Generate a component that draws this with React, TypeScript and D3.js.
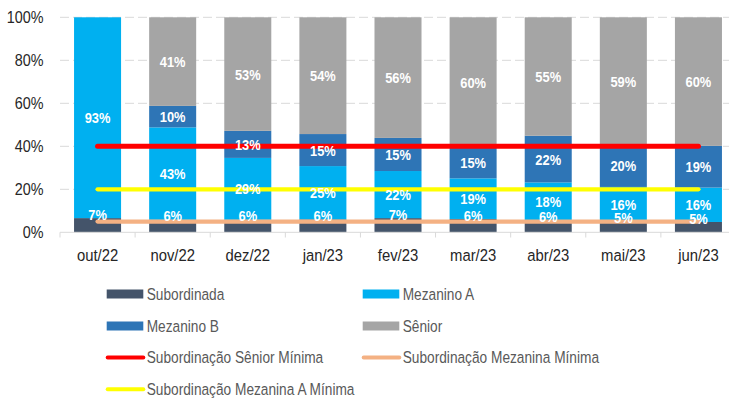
import React from "react";
import * as d3 from "d3";

const categories = ["out/22", "nov/22", "dez/22", "jan/23", "fev/23", "mar/23", "abr/23", "mai/23", "jun/23"];
const subordinada = [6.6, 5.8, 5.8, 6.0, 6.6, 6.2, 5.6, 5.2, 4.8];
const mezaninoA = [93.4, 43.0, 28.8, 24.8, 21.9, 18.9, 17.6, 15.9, 16.0];
const mezaninoB = [0, 10.0, 12.6, 14.9, 15.4, 14.7, 21.7, 19.6, 19.4];
const senior = [0, 41.2, 52.8, 54.3, 56.1, 60.2, 55.1, 59.3, 59.8];
const subSeniorMin = 40;
const subMezAMin = 20;
const subMezMin = 5;
const yTicks = [0, 20, 40, 60, 80, 100];

const seriesNames = ["Subordinada", "Mezanino A", "Mezanino B", "Sênior"];
const seriesColors = ["#44546A", "#00B0F0", "#2E75B6", "#A5A5A5"];
const lineNames = ["Subordinação Sênior Mínima", "Subordinação Mezanina Mínima", "Subordinação Mezanina A Mínima"];
const lineColors = ["#FF0000", "#F4B183", "#FFFF00"];

const W = 729;
const H = 403;
const FONT = "'Liberation Sans', Arial, sans-serif";

function NText(props: {
  x: number;
  y: number;
  sx: number;
  anchor?: "start" | "middle" | "end";
  size: number;
  fill: string;
  bold?: boolean;
  children: React.ReactNode;
}) {
  return (
    <text
      transform={`translate(${props.x},${props.y}) scale(${props.sx},1)`}
      dy="0.36em"
      textAnchor={props.anchor || "start"}
      fontSize={props.size}
      fontWeight={props.bold ? "bold" : "normal"}
      fill={props.fill}
    >
      {props.children}
    </text>
  );
}

export default function App() {
  const x = d3.scaleBand<string>().domain(categories).range([60, 736]).paddingInner(0.374).paddingOuter(0.187);
  const y = d3.scaleLinear().domain([0, 100]).range([232.3, 17.3]);
  const pct = (v: number) => d3.format(".0f")(v) + "%";

  const rows = categories.map((c, i) => ({ cat: c, s: [subordinada[i], mezaninoA[i], mezaninoB[i], senior[i]] }));
  const stack = rows.map((r) => {
    let acc = 0;
    return r.s.map((v) => {
      const y0 = acc;
      acc += v;
      return { y0, y1: acc, v };
    });
  });

  const xFirst = x(categories[0])! + x.bandwidth() / 2;
  const xLast = x(categories[categories.length - 1])! + x.bandwidth() / 2;
  const lineVals = [
    { v: subSeniorMin, c: lineColors[0], w: 5 },
    { v: subMezAMin, c: lineColors[2], w: 4.3 },
    { v: subMezMin, c: lineColors[1], w: 4.3 },
  ];

  const legendItems = [
    { name: seriesNames[0], color: seriesColors[0], type: "rect", col: 0, row: 0 },
    { name: seriesNames[1], color: seriesColors[1], type: "rect", col: 1, row: 0 },
    { name: seriesNames[2], color: seriesColors[2], type: "rect", col: 0, row: 1 },
    { name: seriesNames[3], color: seriesColors[3], type: "rect", col: 1, row: 1 },
    { name: lineNames[0], color: lineColors[0], type: "line", col: 0, row: 2 },
    { name: lineNames[1], color: lineColors[1], type: "line", col: 1, row: 2 },
    { name: lineNames[2], color: lineColors[2], type: "line", col: 0, row: 3 },
  ];
  const colX = [106.7, 362.7];
  const rowY = [294, 326, 357.5, 389.3];

  return (
    <svg width={W} height={H} style={{ position: "absolute", left: 0, top: 0, background: "#fff" }} fontFamily={FONT}>
      {/* gridlines */}
      {yTicks.filter((t) => t > 0).map((t) => (
        <line key={t} x1={60} x2={W} y1={y(t)} y2={y(t)} stroke="#D9D9D9" strokeWidth={1} strokeDasharray="9,4" />
      ))}
      {/* y labels */}
      {yTicks.map((t) => (
        <NText key={t} x={43.5} y={y(t)} sx={0.87} anchor="end" size={16.5} fill="#262626">
          {t + "%"}
        </NText>
      ))}
      {/* bars */}
      {rows.map((r, i) =>
        stack[i].map((seg, j) =>
          seg.v > 0 ? (
            <rect
              key={r.cat + j}
              x={x(r.cat)!}
              width={x.bandwidth()}
              y={y(seg.y1)}
              height={y(seg.y0) - y(seg.y1)}
              fill={seriesColors[j]}
            />
          ) : null
        )
      )}
      {/* x axis */}
      <line x1={60} x2={W} y1={232.3} y2={232.3} stroke="#D9D9D9" strokeWidth={1} />
      {categories.map((c) => (
        <line key={c} x1={x(c)! - x.step() * 0.187} x2={x(c)! - x.step() * 0.187} y1={232.3} y2={237.5} stroke="#D9D9D9" strokeWidth={1} />
      ))}
      {categories.map((c) => (
        <NText key={c} x={x(c)! + x.bandwidth() / 2} y={255} sx={0.9} anchor="middle" size={16.5} fill="#262626">
          {c}
        </NText>
      ))}
      {/* threshold lines */}
      {lineVals.map((l) => (
        <line key={l.v} x1={xFirst} x2={xLast} y1={y(l.v)} y2={y(l.v)} stroke={l.c} strokeWidth={l.w} strokeLinecap="round" />
      ))}
      {/* data labels */}
      {rows.map((r, i) =>
        stack[i].map((seg, j) => {
          if (seg.v <= 0) return null;
          const cx = x(r.cat)! + x.bandwidth() / 2;
          const cy = j === 0 ? y(seg.y1) - 4 : (y(seg.y0) + y(seg.y1)) / 2;
          return (
            <NText key={r.cat + "l" + j} x={cx} y={cy} sx={0.83} anchor="middle" size={15.5} bold fill="#fff">
              {pct(seg.v)}
            </NText>
          );
        })
      )}
      {/* legend */}
      {legendItems.map((it) => {
        const lx = colX[it.col];
        const ly = rowY[it.row];
        return (
          <g key={it.name}>
            {it.type === "rect" ? (
              <rect x={lx} y={ly - 4.5} width={36.6} height={9} fill={it.color} />
            ) : (
              <line x1={lx + 1} x2={lx + 36.6} y1={ly} y2={ly} stroke={it.color} strokeWidth={4} strokeLinecap="round" />
            )}
            <NText x={lx + 40} y={ly} sx={0.83} size={16.5} fill="#595959">
              {it.name}
            </NText>
          </g>
        );
      })}
    </svg>
  );
}
